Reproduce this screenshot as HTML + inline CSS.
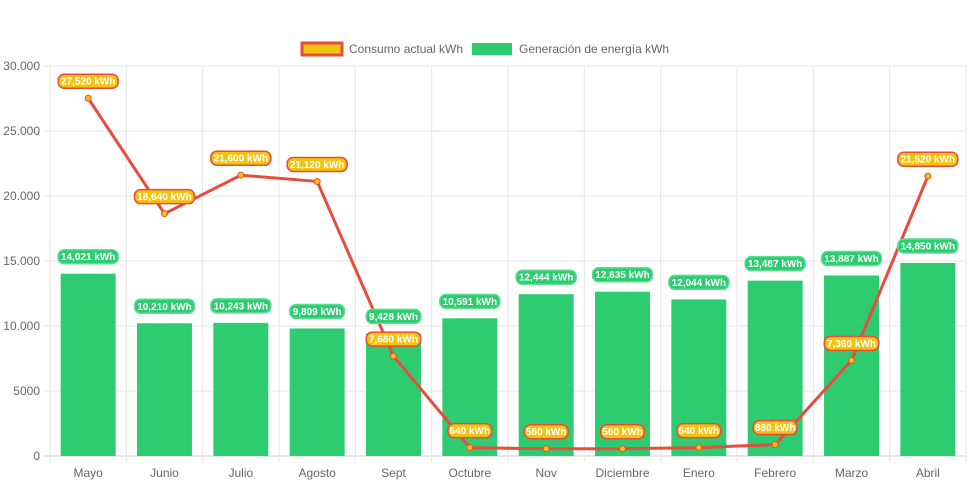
<!DOCTYPE html>
<html><head><meta charset="utf-8"><style>
body{margin:0;background:#fff;font-family:"Liberation Sans",Arial,sans-serif}
svg text{font-family:"Liberation Sans",Arial,sans-serif}
</style></head><body>
<svg id="chart" width="971" height="485">
<g id="legend">
 <g>
  <rect x="302" y="43" width="40" height="12" fill="#f1c40f" stroke="#e74c3c" stroke-width="3"/>
  <text x="349" y="53" font-size="12" fill="#666">Consumo actual kWh</text>
 </g>
 <g>
  <rect x="472" y="43" width="40" height="12" fill="#2ecc71"/>
  <text x="519" y="53" font-size="12" fill="#666">Generación de energía kWh</text>
 </g>
</g>
<g id="grid"></g><g id="bars"></g><g id="line"></g><g id="labels"></g>
</svg>
<script>
const categories=["Mayo","Junio","Julio","Agosto","Sept","Octubre","Nov","Diciembre","Enero","Febrero","Marzo","Abril"];
const consumo=[27520,18640,21600,21120,7680,640,560,560,640,880,7360,21520];
const generacion=[14021,10210,10243,9809,9428,10591,12444,12635,12044,13487,13887,14850];
const yTicks=[0,5000,10000,15000,20000,25000,30000];
const yTickLabels=["0","5000","10.000","15.000","20.000","25.000","30.000"];
const L=50,R=966,T=66,B=456,yMax=30000;
const cw=(R-L)/categories.length;
const x=i=>L+cw*(i+0.5);
const y=v=>B-(v/yMax)*(B-T);
const NS="http://www.w3.org/2000/svg";
function mk(tag,attrs,parent){const e=document.createElementNS(NS,tag);for(const k in attrs)e.setAttribute(k,attrs[k]);document.getElementById(parent).appendChild(e);return e;}
const fmt=v=>v.toLocaleString("en-US")+" kWh";
yTicks.forEach((t,i)=>{
 const g=mk("line",{x1:L-6,x2:R,y1:y(t),y2:y(t),stroke:i==0?"#ccc":"#e5e5e5"},"grid");
 
 
 const tx=mk("text",{x:L-10,y:y(t)+4,"text-anchor":"end","font-size":12,fill:"#666"},"grid");
 tx.textContent=yTickLabels[i];
 
 
});
for(let i=0;i<=categories.length;i++){
 const g=mk("line",{x1:L+cw*i,x2:L+cw*i,y1:T,y2:B+6,stroke:"#e5e5e5"},"grid");
 
 
}
categories.forEach((c,i)=>{
 const tx=mk("text",{x:x(i),y:B+21,"text-anchor":"middle","font-size":12,fill:"#666"},"grid");
 tx.textContent=c;
 
 
});
function label(cx,cy,text,fill,stroke,name){
 const w=text.length*5.4+6;
 const r=mk("rect",{x:cx-w/2,y:cy-7,width:w,height:14,rx:6,fill:fill,stroke:stroke,"stroke-width":1.5},"labels");
 
 
 const t=mk("text",{x:cx,y:cy+3.5,"text-anchor":"middle","font-size":10,"font-weight":"bold",fill:"#fff"},"labels");
 t.textContent=text;
 
 
}
const bw=cw*0.72;
generacion.forEach((v,i)=>{
 const b=mk("rect",{x:x(i)-bw/2,y:y(v),width:bw,height:B-y(v),fill:"#2ecc71"},"bars");
 
 
 label(x(i),y(v)-17,fmt(v),"#2ecc71","#5fdc93","bar-value-label");
});
const p=mk("polyline",{points:consumo.map((v,i)=>x(i)+","+y(v)).join(" "),fill:"none",stroke:"#e74c3c","stroke-width":3,"stroke-linejoin":"round"},"line");


consumo.forEach((v,i)=>{
 const c=mk("circle",{cx:x(i),cy:y(v),r:3,fill:"#f1c40f",stroke:"#e74c3c","stroke-width":1},"line");
 
 
 label(x(i),y(v)-17,fmt(v),"#f1c40f","#e74c3c","line-value-label");
});
</script>
</body></html>
